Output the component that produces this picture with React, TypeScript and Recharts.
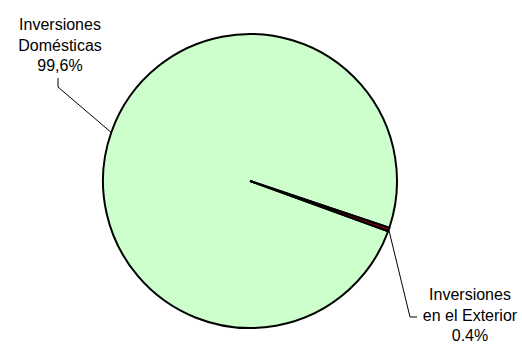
import React from "react";
import { PieChart, Pie, Cell } from "recharts";

const sliceNames = ["Inversiones Domésticas", "Inversiones en el Exterior"];
const nameLines = [
  ["Inversiones", "Domésticas"],
  ["Inversiones", "en el Exterior"]
];
const sliceValues = [99.6, 0.4];
const percentLabels = ["99,6%", "0.4%"];

const sliceColors = ["#CCFFCC", "#800000"];

// where each label sits (text centre x, first baseline y) and its leader line bend
const labelLayout = [
  { tx: 60, ty: 30, elbow: [58, 87], end: [58, 78] },
  { tx: 470, ty: 300, elbow: [410, 317], end: [417, 317] }
];

const RADIAN = Math.PI / 180;
const FONT = "'Liberation Sans', Arial, sans-serif";

const data = sliceNames.map((name, i) => ({
  name,
  value: sliceValues[i],
  lines: nameLines[i],
  pct: percentLabels[i]
}));

const edgePoint = (cx: number, cy: number, r: number, angle: number) => [
  cx + r * Math.cos(-angle * RADIAN),
  cy + r * Math.sin(-angle * RADIAN)
];

const renderLabel = (props: any) => {
  const { index } = props;
  const d = data[index];
  const l = labelLayout[index];
  const lines = [...d.lines, d.pct];
  return (
    <text
      x={l.tx}
      y={l.ty}
      textAnchor="middle"
      fill="#000"
      fontFamily={FONT}
      fontSize={16}
    >
      {lines.map((t, k) => (
        <tspan key={k} x={l.tx} dy={k === 0 ? 0 : 20.5}>
          {t}
        </tspan>
      ))}
    </text>
  );
};

const renderLabelLine = (props: any) => {
  const { cx, cy, outerRadius, midAngle, index } = props;
  const l = labelLayout[index];
  const [x0, y0] = edgePoint(cx, cy, outerRadius, midAngle);
  return (
    <polyline
      points={`${x0},${y0} ${l.elbow[0]},${l.elbow[1]} ${l.end[0]},${l.end[1]}`}
      fill="none"
      stroke="#000"
      strokeWidth={1}
    />
  );
};

export default function App() {
  return (
    <div style={{ position: "absolute", left: 0, top: 0, width: 522, height: 345, background: "#fff" }}>
      <PieChart width={522} height={345} margin={{ top: 0, right: 0, bottom: 0, left: 0 }}>
        <Pie
          data={data}
          dataKey="value"
          nameKey="name"
          cx={250}
          cy={181}
          outerRadius={147}
          startAngle={-20}
          endAngle={-380}
          stroke="#000"
          strokeWidth={2}
          label={renderLabel}
          labelLine={renderLabelLine}
          isAnimationActive={false}
        >
          {data.map((d, i) => (
            <Cell key={d.name} fill={sliceColors[i]} />
          ))}
        </Pie>
      </PieChart>
    </div>
  );
}
